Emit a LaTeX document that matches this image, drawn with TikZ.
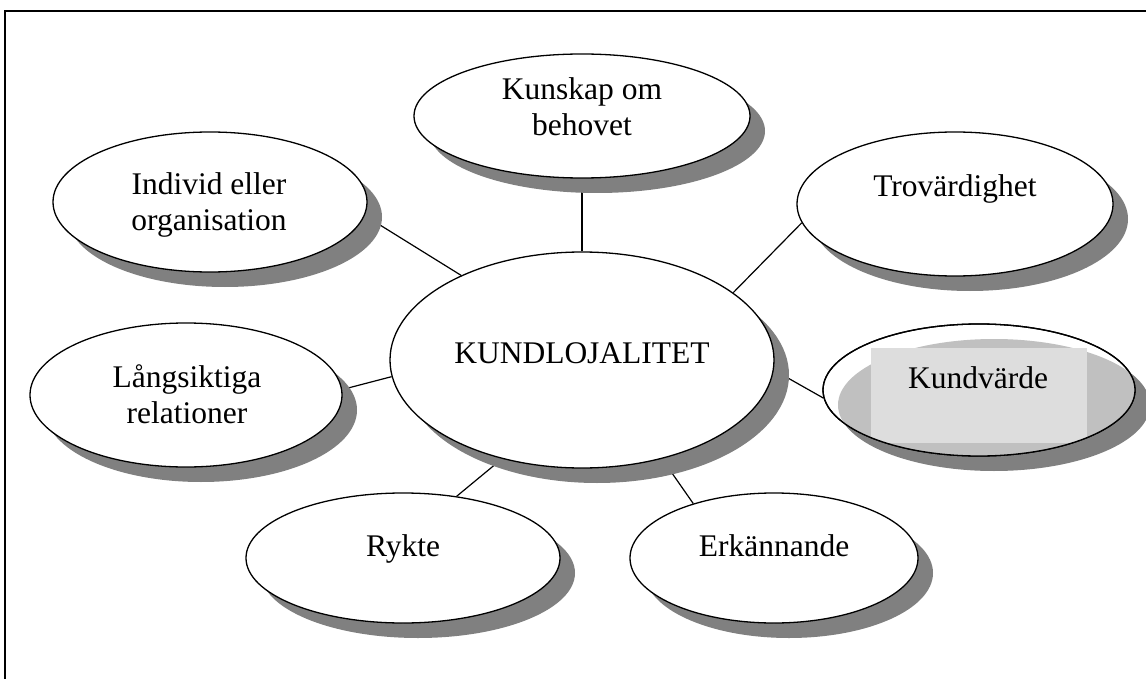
\documentclass[tikz,border=0pt]{standalone}
\usepackage{fontspec}
\setmainfont{Liberation Serif}
\usetikzlibrary{shapes.geometric,shadows}
\pgfdeclarelayer{bg}
\pgfsetlayers{bg,main}
\definecolor{shd}{HTML}{808080}
\definecolor{shdin}{HTML}{C0C0C0}
\definecolor{tbox}{HTML}{DDDDDD}
\begin{document}
\begin{tikzpicture}[x=1pt,y=-1pt,
  bubble/.style={ellipse, draw=black, line width=1.3pt, fill=white, inner sep=0pt,
    drop shadow={shadow xshift=15pt, shadow yshift=-15pt, fill=shd, opacity=1}},
  lbl/.style={font=\fontsize{31.5}{36}\selectfont, align=center, anchor=base, inner sep=0pt},
  link/.style={line width=1.2pt, draw=black}]
\useasboundingbox (0,0) rectangle (1146,679);
\begin{pgfonlayer}{bg}
\fill[white] (0,0) rectangle (1146,679);
\end{pgfonlayer}
\draw[line width=2.5pt] (5,679) -- (5,11) -- (1146,11);

\node[bubble, minimum width=384pt, minimum height=216pt] (kl) at (582,360) {};
\node[bubble, minimum width=336pt, minimum height=124pt] (ku) at (582,116) {};
\node[bubble, minimum width=314pt, minimum height=140pt] (in) at (210,202) {};
\node[bubble, minimum width=316pt, minimum height=144pt] (tr) at (955,204) {};
\node[bubble, minimum width=312pt, minimum height=144pt] (la) at (186,395) {};
\node[bubble, minimum width=312pt, minimum height=132pt] (kv) at (979,390) {};
\node[bubble, minimum width=314pt, minimum height=130pt] (ry) at (403,558) {};
\node[bubble, minimum width=288pt, minimum height=130pt] (er) at (774,558) {};

\begin{scope}
\clip (kv.center) ellipse [x radius=156pt, y radius=66pt];
\fill[shdin] ([shift={(15,15)}]kv.center) ellipse [x radius=156pt, y radius=66pt];
\fill[tbox] (871,348) rectangle (1087,443);
\end{scope}
\draw[line width=1.3pt] (kv.center) ellipse [x radius=156pt, y radius=66pt];

\begin{pgfonlayer}{bg}
\draw[link] (kl.90) -- (ku.270);
\draw[link] (kl.24) -- (tr.187);
\draw[link] (kl.145) -- (in.355);
\draw[link] (kl.185) -- (la.2);
\draw[link] (kl.357) -- (kv.183);
\draw[link] (kl.231) -- (ry.49);
\draw[link] (kl.309) -- (er.146);
\end{pgfonlayer}

\node[lbl] (kl-t) at (582,363) {KUNDLOJALITET};
\node[lbl] (ku-t) at (582,136) {Kunskap om\\behovet};
\node[lbl] (in-t) at (209,231) {Individ eller\\organisation};
\node[lbl] (la-t) at (187,423) {Långsiktiga\\relationer};
\node[lbl] (tr-t) at (955,197) {Trovärdighet};
\node[lbl] (kv-t) at (978,388) {Kundvärde};
\node[lbl] (ry-t) at (403,556) {Rykte};
\node[lbl] (er-t) at (774,556) {Erkännande};
\end{tikzpicture}
\end{document}
